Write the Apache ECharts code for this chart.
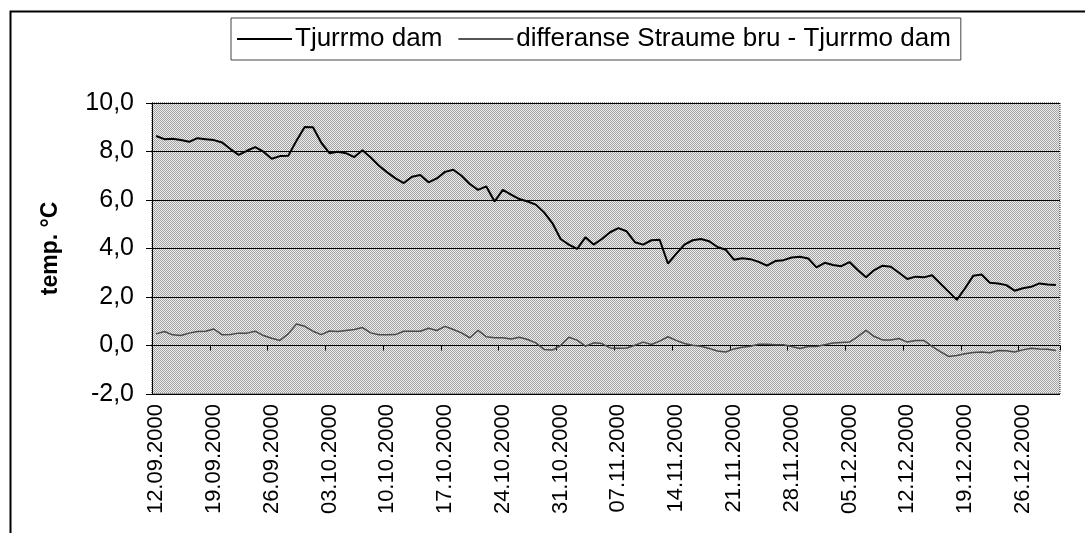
<!DOCTYPE html>
<html>
<head>
<meta charset="utf-8">
<script src="https://cdn.jsdelivr.net/npm/echarts@6/dist/echarts.min.js"></script>
<style>
html,body{margin:0;padding:0;background:#fff;}
#chart{width:1085px;height:533px;}
</style>
</head>
<body>
<div id="chart"></div>
<script>
// Daily categories 12.09.2000 - 30.12.2000
var startDate = new Date(2000, 8, 12);
var dayCount = 110;
var categories = [];
for (var d = 0; d < dayCount; d++) {
  var dt = new Date(startDate.getFullYear(), startDate.getMonth(), startDate.getDate() + d);
  var dd = ('0' + dt.getDate()).slice(-2);
  var mm = ('0' + (dt.getMonth() + 1)).slice(-2);
  categories.push(dd + '.' + mm + '.' + dt.getFullYear());
}

var seriesNames = ['Tjurrmo dam', 'differanse Straume bru - Tjurrmo dam'];

var tjurrmoDam = [
  8.64, 8.51, 8.53, 8.47, 8.40, 8.55, 8.51, 8.47, 8.37, 8.10,
  7.86, 8.03, 8.18, 7.99, 7.70, 7.81, 7.82, 8.44, 9.01, 9.00,
  8.37, 7.93, 7.99, 7.93, 7.77, 8.05, 7.75, 7.41, 7.14, 6.89,
  6.70, 6.96, 7.03, 6.73, 6.89, 7.16, 7.25, 7.00, 6.66, 6.42,
  6.56, 5.94, 6.42, 6.22, 6.04, 5.94, 5.81, 5.49, 5.05, 4.39,
  4.16, 3.98, 4.46, 4.16, 4.39, 4.67, 4.84, 4.71, 4.26, 4.16,
  4.34, 4.36, 3.38, 3.78, 4.16, 4.34, 4.39, 4.30, 4.06, 3.95,
  3.54, 3.60, 3.56, 3.45, 3.29, 3.48, 3.52, 3.63, 3.66, 3.59,
  3.22, 3.41, 3.32, 3.27, 3.44, 3.11, 2.81, 3.11, 3.29, 3.25,
  3.00, 2.74, 2.84, 2.81, 2.90, 2.56, 2.22, 1.88, 2.36, 2.88,
  2.93, 2.59, 2.56, 2.49, 2.26, 2.36, 2.42, 2.56, 2.52, 2.49
];

var differanse = [
  0.48, 0.58, 0.44, 0.41, 0.51, 0.58, 0.59, 0.68, 0.44, 0.45,
  0.51, 0.51, 0.59, 0.41, 0.30, 0.21, 0.48, 0.89, 0.79, 0.59,
  0.45, 0.60, 0.58, 0.62, 0.66, 0.74, 0.52, 0.44, 0.44, 0.45,
  0.59, 0.59, 0.59, 0.71, 0.62, 0.79, 0.66, 0.52, 0.32, 0.62,
  0.36, 0.32, 0.32, 0.27, 0.34, 0.25, 0.11, -0.16, -0.19, 0.00,
  0.34, 0.22, -0.03, 0.11, 0.08, -0.10, -0.11, -0.10, 0.01, 0.14,
  0.04, 0.18, 0.36, 0.21, 0.08, 0.01, -0.03, -0.12, -0.23, -0.27,
  -0.14, -0.07, -0.03, 0.05, 0.05, 0.03, 0.03, -0.04, -0.12, -0.04,
  -0.04, 0.03, 0.10, 0.12, 0.14, 0.37, 0.62, 0.37, 0.23, 0.23,
  0.29, 0.14, 0.21, 0.21, -0.04, -0.25, -0.45, -0.41, -0.34, -0.29,
  -0.27, -0.30, -0.21, -0.22, -0.27, -0.18, -0.11, -0.14, -0.15, -0.21
];

var yMin = -2, yMax = 10, yInterval = 2;

// stippled plot background pattern
var pc = document.createElement('canvas');
pc.width = 2; pc.height = 2;
var pctx = pc.getContext('2d');
pctx.fillStyle = '#eeeeee'; pctx.fillRect(0, 0, 2, 2);
pctx.fillStyle = '#a2a2a2'; pctx.fillRect(0, 0, 1, 1); pctx.fillRect(1, 1, 1, 1);

var chart = echarts.init(document.getElementById('chart'), null, {renderer: 'canvas'});
var font = '"Liberation Sans", Arial, sans-serif';

chart.setOption({
  animation: false,
  backgroundColor: '#ffffff',
  textStyle: {fontFamily: font, color: '#000'},
  graphic: [{
    type: 'rect', left: 8, top: 9, z: -10,
    shape: {width: 1100, height: 540},
    style: {fill: 'none', stroke: '#000', lineWidth: 2}
  }],
  legend: {
    data: seriesNames,
    left: 231, top: 18,
    padding: [8, 10, 8, 6],
    itemGap: 16,
    itemWidth: 55, itemHeight: 2,
    icon: 'rect',
    borderColor: '#444', borderWidth: 1,
    textStyle: {fontSize: 26, color: '#000', fontFamily: font, padding: [0, 0, 0, -2]}
  },
  grid: {
    left: 152, right: 25, top: 103, bottom: 139,
    show: true,
    backgroundColor: {image: pc, repeat: 'repeat'},
    borderColor: '#222', borderWidth: 1, borderType: 'dotted'
  },
  xAxis: [{
    type: 'category',
    data: categories,
    position: 'bottom',
    boundaryGap: true,
    axisLine: {show: false, onZero: false},
    axisTick: {show: false},
    axisLabel: {interval: 6, rotate: 90, fontSize: 22, color: '#000', margin: 10, fontFamily: font},
    splitLine: {show: false}
  }, {
    type: 'category',
    data: categories,
    position: 'bottom',
    boundaryGap: true,
    axisLine: {show: true, onZero: true, onZeroAxisIndex: 0, lineStyle: {color: '#000', width: 1}},
    axisTick: {show: true, interval: 6, length: 5, lineStyle: {color: '#000'}},
    axisLabel: {show: false},
    splitLine: {show: false}
  }],
  yAxis: {
    type: 'value',
    min: yMin, max: yMax, interval: yInterval,
    name: 'temp. °C',
    nameLocation: 'middle',
    nameGap: 90,
    nameRotate: 90,
    nameTextStyle: {fontSize: 23, fontWeight: 'bold', color: '#000', fontFamily: font},
    axisLine: {show: true, lineStyle: {color: '#000', width: 1}},
    axisTick: {show: true, length: 6, lineStyle: {color: '#000'}},
    axisLabel: {
      fontSize: 25, color: '#000', margin: 18, fontFamily: font,
      formatter: function (v) { return v.toFixed(1).replace('.', ','); }
    },
    splitLine: {show: true, lineStyle: {color: '#000', width: 1}}
  },
  series: [{
    name: seriesNames[0],
    type: 'line',
    xAxisIndex: 0,
    data: tjurrmoDam,
    showSymbol: false, symbol: 'none',
    itemStyle: {color: '#000'},
    lineStyle: {color: '#000', width: 2}
  }, {
    name: seriesNames[1],
    type: 'line',
    xAxisIndex: 0,
    data: differanse,
    showSymbol: false, symbol: 'none',
    itemStyle: {color: '#555'},
    lineStyle: {color: '#4a4a4a', width: 1.5}
  }]
});
</script>
</body>
</html>
